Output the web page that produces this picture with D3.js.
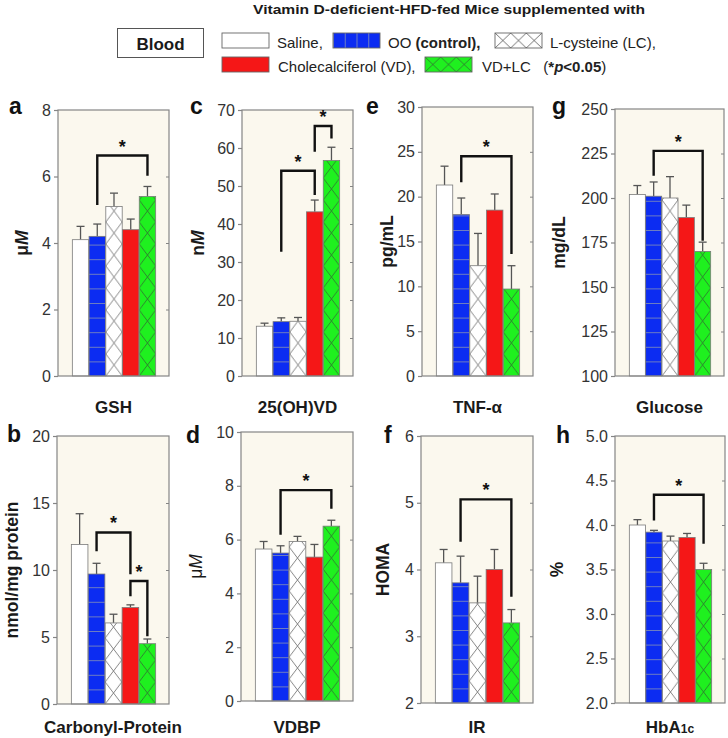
<!DOCTYPE html>
<html><head><meta charset="utf-8">
<script src="https://cdn.jsdelivr.net/npm/d3@7"></script>
<style>
body{margin:0;background:#fff}
svg{display:block;font-family:"Liberation Sans",Arial,Helvetica,sans-serif}
</style>
</head><body>
<svg id="chart" width="728" height="738"></svg>
<script>
// ---------- data ----------
const groups = ["Saline", "OO (control)", "L-cysteine (LC)", "Cholecalciferol (VD)", "VD+LC"];

const gshMean = [4.1, 4.2, 5.1, 4.4, 5.4];
const gshErr  = [0.4, 0.37, 0.4, 0.32, 0.3];
const vdMean  = [13.1, 14.3, 14.4, 43.2, 56.7];
const vdErr   = [0.8, 1.0, 1.0, 3.1, 3.5];
const tnfMean = [21.3, 18.0, 12.3, 18.5, 9.7];
const tnfErr  = [2.1, 1.85, 3.6, 1.8, 2.6];
const gluMean = [202, 201, 200, 189, 170];
const gluErr  = [5, 8, 12, 7, 5.2];
const carbMean = [11.9, 9.7, 6.05, 7.2, 4.5];
const carbErr  = [2.3, 0.8, 0.65, 0.2, 0.35];
const vdbpMean = [5.65, 5.5, 5.93, 5.35, 6.5];
const vdbpErr  = [0.28, 0.27, 0.19, 0.47, 0.22];
const irMean  = [4.1, 3.8, 3.5, 4.0, 3.2];
const irErr   = [0.2, 0.4, 0.4, 0.3, 0.2];
const hbMean  = [4.0, 3.92, 3.82, 3.86, 3.5];
const hbErr   = [0.06, 0.02, 0.055, 0.045, 0.07];

// significance brackets: [fromGroup, toGroup, bracketTop, leftLegEnd, rightLegEnd]
const gshSig  = [[1, 4, 6.63, 5.14, 6.02]];
const vdSig   = [[1, 3, 54.0, 32.7, 47.6], [3, 4, 65.8, 59.0, 62.5]];
const tnfSig  = [[1, 4, 24.5, 21.6, 13.6]];
const gluSig  = [[1, 4, 226.5, 212.5, 176]];
const carbSig = [[1, 3, 12.8, 11.4, 9.68], [3, 4, 9.18, 8.05, 5.05]];
const vdbpSig = [[1, 4, 7.84, 6.18, 7.15]];
const irSig   = [[1, 4, 5.05, 4.415, 3.59]];
const hbSig   = [[1, 4, 4.34, 4.05, 3.79]];

const gshTicks  = [0, 2, 4, 6, 8];
const vdTicks   = [0, 10, 20, 30, 40, 50, 60, 70];
const tnfTicks  = [0, 5, 10, 15, 20, 25, 30];
const gluTicks  = [100, 125, 150, 175, 200, 225, 250];
const carbTicks = [0, 5, 10, 15, 20];
const vdbpTicks = [0, 2, 4, 6, 8, 10];
const irTicks   = [2, 3, 4, 5, 6];
const hbTicks   = [2.0, 2.5, 3.0, 3.5, 4.0, 4.5, 5.0];

// ---------- style / layout ----------
const fills = ["#ffffff", "#0c2cf2", "#ffffff", "#f51717", "#1ff01f"];
const bg = "#fbf8ee";
const frameCol = "#858585";

const panels = [
  {id:"a", mean:gshMean, err:gshErr, sig:gshSig, ticks:gshTicks, fmt:"d",   x0:58,  x1:169, y0:110, y1:376,
   ylab:[["μ",false],["M",true]], yb:true, ylx:22, xlab:"GSH", lx:9, ly:114, xly:413},
  {id:"c", mean:vdMean, err:vdErr, sig:vdSig, ticks:vdTicks, fmt:"d",       x0:242, x1:353, y0:110, y1:376,
   ylab:[["n",false],["M",true]], yb:true, ylx:198, xlab:"25(OH)VD", lx:190, ly:114, xly:413},
  {id:"e", mean:tnfMean, err:tnfErr, sig:tnfSig, ticks:tnfTicks, fmt:"d",   x0:422, x1:533, y0:107, y1:376,
   ylab:[["pg/mL",false]], yb:true, ylx:387, xlab:"TNF-α", lx:366, ly:114, xly:413},
  {id:"g", mean:gluMean, err:gluErr, sig:gluSig, ticks:gluTicks, fmt:"d",   x0:615, x1:724, y0:109, y1:376,
   ylab:[["mg/dL",false]], yb:true, ylx:559, xlab:"Glucose", lx:552, ly:114, xly:413},
  {id:"b", mean:carbMean, err:carbErr, sig:carbSig, ticks:carbTicks, fmt:"d", x0:57, x1:169, y0:436, y1:704,
   ylab:[["nmol/mg protein",false]], yb:true, ylx:12, xlab:"Carbonyl-Protein", lx:7, ly:442, xly:733},
  {id:"d", mean:vdbpMean, err:vdbpErr, sig:vdbpSig, ticks:vdbpTicks, fmt:"d", x0:241, x1:353, y0:432, y1:701,
   ylab:[["μ",false],["M",true]], yb:false, ylx:196, xlab:"VDBP", lx:186, ly:443, xly:733},
  {id:"f", mean:irMean, err:irErr, sig:irSig, ticks:irTicks, fmt:"d",       x0:421, x1:533, y0:436, y1:703,
   ylab:[["HOMA",false]], yb:true, ylx:383, xlab:"IR", lx:384, ly:443, xly:733},
  {id:"h", mean:hbMean, err:hbErr, sig:hbSig, ticks:hbTicks, fmt:".1f",     x0:615, x1:725, y0:436, y1:703,
   ylab:[["%",false]], yb:true, ylx:557, xlab:"HbA1c", lx:556, ly:443, xly:733}
];

const svg = d3.select("#chart");
const defs = svg.append("defs");

function hLinesPattern(id, x, y, w, h, base, line) {
  const p = defs.append("pattern").attr("id", id).attr("patternUnits", "userSpaceOnUse")
    .attr("x", x).attr("y", y).attr("width", w).attr("height", h);
  p.append("rect").attr("width", w).attr("height", h).attr("fill", base);
  p.append("line").attr("x1", 0).attr("x2", w).attr("y1", 0.5).attr("y2", 0.5)
    .attr("stroke", line).attr("stroke-width", 1);
}
function vLinesPattern(id, x, y, w, h, base, line) {
  const p = defs.append("pattern").attr("id", id).attr("patternUnits", "userSpaceOnUse")
    .attr("x", x).attr("y", y).attr("width", w).attr("height", h);
  p.append("rect").attr("width", w).attr("height", h).attr("fill", base);
  p.append("line").attr("x1", 0.5).attr("x2", 0.5).attr("y1", 0).attr("y2", h)
    .attr("stroke", line).attr("stroke-width", 1);
}
function crossPattern(id, x, y, w, h, base, line) {
  const p = defs.append("pattern").attr("id", id).attr("patternUnits", "userSpaceOnUse")
    .attr("x", x).attr("y", y).attr("width", w).attr("height", h);
  p.append("rect").attr("width", w).attr("height", h).attr("fill", base);
  p.append("path").attr("d", `M0,0L${w},${h}M${w},0L0,${h}`)
    .attr("stroke", line).attr("stroke-width", 0.9).attr("fill", "none");
}

// ---------- title & legend ----------
svg.append("text").attr("x", 449).attr("y", 14).attr("text-anchor", "middle")
  .attr("font-size", 13.5).attr("font-weight", "bold").attr("fill", "#1a1a1a")
  .attr("textLength", 392).attr("lengthAdjust", "spacingAndGlyphs")
  .text("Vitamin D-deficient-HFD-fed Mice supplemented with");

svg.append("rect").attr("x", 117.5).attr("y", 28.5).attr("width", 86).attr("height", 29)
  .attr("fill", "#fff").attr("stroke", "#555").attr("stroke-width", 1);
svg.append("text").attr("x", 160.5).attr("y", 49.5).attr("text-anchor", "middle")
  .attr("font-size", 17).attr("font-weight", "bold").attr("fill", "#1a1a1a").text("Blood");

const legendItems = [
  {g:0, bx:222, by:33, tx:277, row:0, parts:[["Saline,", "normal", "normal"]]},
  {g:1, bx:333, by:33, tx:388, row:0, parts:[["OO ", "normal", "normal"], ["(control),", "bold", "normal"]]},
  {g:2, bx:495, by:33, tx:550, row:0, parts:[["L-cysteine (LC),", "normal", "normal"]]},
  {g:3, bx:222, by:57, tx:278, row:1, parts:[["Cholecalciferol (VD),", "normal", "normal"]]},
  {g:4, bx:425, by:57, tx:482, row:1, parts:[["VD+LC   (", "normal", "normal"], ["*", "bold", "normal"], ["p", "bold", "italic"], ["<0.05", "bold", "normal"], [")", "normal", "normal"]]}
];
const lbw = 47, lbh = 15;
legendItems.forEach(it => {
  let fill = fills[it.g];
  if (it.g === 1) { vLinesPattern("leg1", it.bx, it.by, lbw / 4, lbh, fills[1], "#6f7fc0"); fill = "url(#leg1)"; }
  if (it.g === 2) { crossPattern("leg2", it.bx, it.by, lbw / 3, lbh, fills[2], "#666"); fill = "url(#leg2)"; }
  if (it.g === 4) { crossPattern("leg4", it.bx, it.by, lbw / 3, lbh, fills[4], "#2f7a2f"); fill = "url(#leg4)"; }
  svg.append("rect").attr("x", it.bx).attr("y", it.by).attr("width", lbw).attr("height", lbh)
    .attr("fill", fill).attr("stroke", "#666").attr("stroke-width", 0.9);
  const t = svg.append("text").attr("x", it.tx).attr("y", it.by + 14.5)
    .attr("font-size", 15).attr("fill", "#222").attr("xml:space", "preserve");
  it.parts.forEach(p => t.append("tspan").attr("font-weight", p[1]).attr("font-style", p[2]).text(p[0]));
});

// ---------- panels ----------
panels.forEach(p => {
  const g = svg.append("g");
  const x = d3.scaleBand().domain(d3.range(groups.length)).range([p.x0 + 14, p.x1 - 13]).padding(0.02);
  const y = d3.scaleLinear().domain([p.ticks[0], p.ticks[p.ticks.length - 1]]).range([p.y1, p.y0]);
  const bw = x.bandwidth();

  g.append("rect").attr("x", p.x0).attr("y", p.y0).attr("width", p.x1 - p.x0).attr("height", p.y1 - p.y0)
    .attr("fill", bg);

  // patterns
  hLinesPattern(`p${p.id}1`, x(1), p.y1, bw, 14.6, fills[1], "#6e7ec0");
  crossPattern(`p${p.id}2`, x(2), p.y1, bw, 22, fills[2], "#777");
  crossPattern(`p${p.id}4`, x(4), p.y1, bw, 22, fills[4], "#2f7a2f");
  const barFill = i => (i === 1 || i === 2 || i === 4) ? `url(#p${p.id}${i})` : fills[i];

  // error bars
  const eb = g.append("g").attr("stroke", "#555").attr("stroke-width", 1.3).attr("fill", "none");
  p.mean.forEach((m, i) => {
    const cx = x(i) + bw / 2;
    eb.append("line").attr("x1", cx).attr("x2", cx).attr("y1", y(m)).attr("y2", y(m + p.err[i]));
    eb.append("line").attr("x1", cx - 4).attr("x2", cx + 4).attr("y1", y(m + p.err[i])).attr("y2", y(m + p.err[i]));
  });

  // bars
  g.append("g").selectAll("rect").data(p.mean).join("rect")
    .attr("x", (d, i) => x(i)).attr("y", d => y(d))
    .attr("width", bw).attr("height", d => p.y1 - y(d))
    .attr("fill", (d, i) => barFill(i))
    .attr("stroke", "#7a7a7a").attr("stroke-width", 0.8);

  // frame
  g.append("rect").attr("x", p.x0).attr("y", p.y0).attr("width", p.x1 - p.x0).attr("height", p.y1 - p.y0)
    .attr("fill", "none").attr("stroke", frameCol).attr("stroke-width", 1.2);

  // axes
  const ax = g.append("g").attr("transform", `translate(${p.x0},0)`)
    .call(d3.axisLeft(y).tickValues(p.ticks).tickSize(4).tickPadding(3).tickFormat(d3.format(p.fmt)));
  ax.select(".domain").remove();
  ax.selectAll(".tick line").attr("stroke", frameCol).attr("stroke-width", 1.2);
  ax.selectAll(".tick text").attr("font-size", 16).attr("fill", "#333")
    .attr("font-family", '"Liberation Sans",Arial,sans-serif');
  const ax2 = g.append("g").attr("transform", `translate(${p.x1},0)`)
    .call(d3.axisLeft(y).tickValues(p.ticks.slice(1, -1)).tickSize(3).tickFormat(""));
  ax2.select(".domain").remove();
  ax2.selectAll(".tick line").attr("stroke", frameCol).attr("stroke-width", 1);

  // significance brackets
  p.sig.forEach(s => {
    const xa = x(s[0]) + bw / 2, xb = x(s[1]) + bw / 2;
    g.append("path").attr("d", `M${xa},${y(s[3])}V${y(s[2])}H${xb}V${y(s[4])}`)
      .attr("fill", "none").attr("stroke", "#111").attr("stroke-width", 2.4);
    g.append("text").attr("x", (xa + xb) / 2).attr("y", y(s[2]) - 3).attr("text-anchor", "middle")
      .attr("font-size", 18).attr("font-weight", "bold").attr("fill", "#111").text("*");
  });

  // panel letter
  g.append("text").attr("x", p.lx).attr("y", p.ly).attr("font-size", 23).attr("font-weight", "bold")
    .attr("fill", "#111").text(p.id);

  // y label
  const yl = g.append("text")
    .attr("transform", `translate(${p.ylx},${(p.y0 + p.y1) / 2}) rotate(-90)`)
    .attr("text-anchor", "middle").attr("dy", "0.36em")
    .attr("font-size", 17.5).attr("font-weight", p.yb ? "bold" : "normal").attr("fill", "#1a1a1a");
  p.ylab.forEach(part => yl.append("tspan").attr("font-style", part[1] ? "italic" : "normal").text(part[0]));

  // x label
  const xl = g.append("text").attr("x", (p.x0 + p.x1) / 2).attr("y", p.xly).attr("text-anchor", "middle")
    .attr("font-size", 17).attr("font-weight", "bold").attr("fill", "#1a1a1a");
  if (p.xlab === "HbA1c") {
    xl.append("tspan").text("HbA");
    xl.append("tspan").attr("font-size", 12).text("1c");
  } else {
    xl.text(p.xlab);
  }
});
</script>
</body></html>
